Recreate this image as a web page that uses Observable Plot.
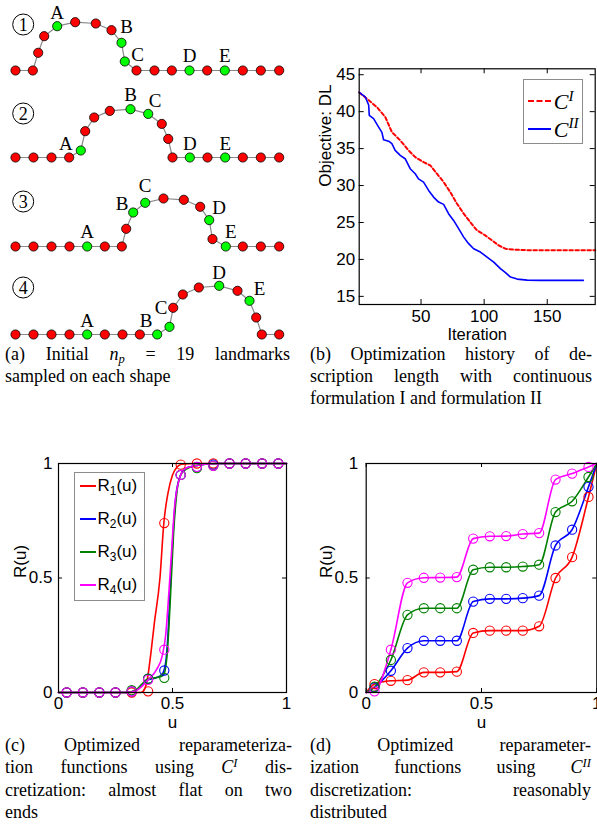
<!DOCTYPE html>
<html>
<head>
<meta charset="utf-8">
<script src="https://cdn.jsdelivr.net/npm/d3@7"></script>
<script src="https://cdn.jsdelivr.net/npm/@observablehq/plot@0.6"></script>
<style>
  body { margin: 0; background: #fff; }
  #root { position: relative; width: 597px; height: 837px; overflow: hidden; background: #fff; }
  #root svg { position: absolute; overflow: visible; background: transparent; }
  .cap { position: absolute; font-family: "Liberation Serif", "Times New Roman", serif; font-size: 18px; line-height: 22.3px; color: #000; }
  .cap .j { text-align: justify; text-align-last: justify; }
  .cap sup, .cap sub, .leg sup, .leg sub { font-size: 70%; line-height: 0; position: relative; vertical-align: baseline; }
  .cap sup { top: -0.5em; }
  .cap sub { top: 0.3em; }
  .leg { position: absolute; background: #fff; border: 1px solid #8c8c8c; box-sizing: border-box; }
  .leg .sw { position: absolute; height: 0; }
  .leg .tx { position: absolute; white-space: nowrap; color: #000; }
</style>
</head>
<body>
<div id="root"></div>
<script>
// ---------------- Panel (a): landmarks on four shapes ----------------
const landmarkLabels = ["A", "B", "C", "D", "E"];
const landmarkIdx = [4, 8, 9, 13, 15];
const shapeNumbers = ["1", "2", "3", "4"];

const shape1X = [15, 32.3, 37.7, 43.7, 56.7, 74.7, 95.3, 111, 121, 124.3, 136, 154, 171.3, 189, 206.7, 224.3, 242.3, 260.3, 278.7];
const shape1H = [0, 0, 17.7, 34.3, 44.3, 48.3, 47, 40.3, 27.7, 9, 0, 0, 0, 0, 0, 0, 0, 0, 0];
const shape2X = [15, 33, 51, 68.7, 80.3, 84.7, 93.7, 109.3, 130, 147.7, 161.3, 167.7, 172, 189.3, 207, 224.7, 242.3, 260.3, 278.7];
const shape2H = [0, 0, 0, 0, 7, 26.3, 40, 46.6, 48.3, 43.6, 33.6, 18.6, 0, 0, 0, 0, 0, 0, 0];
const shape3X = [15, 33, 51, 69, 86.7, 104.3, 121.3, 125.7, 132.7, 144.7, 163, 183.3, 199.7, 208.7, 212, 225.3, 242.3, 260.3, 278.7];
const shape3H = [0, 0, 0, 0, 0, 0, 0, 17.7, 34, 43.7, 48, 46.7, 39.7, 26.4, 7.4, 0, 0, 0, 0];
const shape4X = [15, 33, 51, 69, 86.7, 104.3, 122, 139.3, 156.7, 169, 172.7, 182.3, 198.3, 218.7, 237, 249, 255.7, 261.3, 278.7];
const shape4H = [0, 0, 0, 0, 0, 0, 0, 0, 0, 7.7, 26.7, 40, 47, 48.7, 43.7, 33.7, 17, 0, 0];

// ---------------- Panel (b): optimisation history ----------------
const iterCI = [1, 7.1, 15, 21.7, 26.9, 33.5, 40.1, 45.4, 52, 57.3, 62.6, 67.9, 73.2, 78.5, 83.8, 89, 94.3, 100.9, 106.2, 111.5, 116.9, 123.4, 139.3, 188];
const dlCI = [42.6, 41.75, 40.62, 39.27, 37.24, 36.11, 34.76, 33.85, 33.17, 32.73, 31.6, 30.47, 29.11, 27.54, 26.19, 25.05, 23.93, 23.25, 22.58, 21.9, 21.45, 21.32, 21.23, 21.23];
const iterCII = [1, 5.8, 8.5, 9, 12.4, 16.4, 19, 20.3, 24.3, 26.9, 29.5, 33.5, 37.4, 41.4, 45.4, 48, 52, 56, 59.9, 63.9, 67.9, 71.8, 75.8, 79.8, 83.8, 87.7, 91.7, 97, 102.3, 107.6, 112.9, 116.9, 120.9, 126.2, 134.1, 144.7, 178.6];
const dlCII = [42.6, 42.0, 40.9, 39.5, 39.05, 37.9, 37.2, 36.2, 36.0, 35.66, 34.76, 34.08, 33.63, 32.28, 31.6, 30.9, 30.47, 29.34, 28.44, 27.76, 27.45, 26.19, 25.28, 24.16, 23.02, 22.13, 21.45, 21.0, 20.32, 19.64, 18.75, 18.2, 17.61, 17.34, 17.2, 17.16, 17.16];
const bXTicks = [50, 100, 150];
const bYTicks = [15, 20, 25, 30, 35, 40, 45];

// ---------------- Panels (c), (d): reparameterisation functions ----------------
const uSamples = [0.036, 0.107, 0.179, 0.25, 0.321, 0.393, 0.464, 0.536, 0.607, 0.679, 0.75, 0.821, 0.893, 0.964];
const seriesNames = ["R1", "R2", "R3", "R4"];
const seriesColors = ["#ff0000", "#0000ff", "#008000", "#ff00ff"];
const unitTicks = [0, 0.5, 1];

// (c) sample circles
const cR1 = [0, 0, 0, 0, 0, 0.005, 0.74, 0.995, 1, 1, 1, 1, 1, 1];
const cR2 = [0, 0, 0, 0, 0.005, 0.06, 0.096, 0.95, 0.985, 0.995, 1, 1, 1, 1];
const cR3 = [0, 0, 0, 0, 0.01, 0.06, 0.064, 0.95, 0.98, 0.99, 1, 1, 1, 1];
const cR4 = [0, 0, 0, 0, 0.005, 0.055, 0.187, 0.95, 0.985, 0.99, 1, 1, 1, 1];
// (c) curves
const cCurveU1 = [0, 0.30, 0.36, 0.375, 0.39, 0.405, 0.42, 0.445, 0.462, 0.48, 0.5, 0.52, 0.54, 0.6, 0.8, 1];
const cCurveR1 = [0, 0, 0, 0.01, 0.06, 0.17, 0.30, 0.50, 0.74, 0.87, 0.95, 0.985, 0.997, 1, 1, 1];
const cCurveU2 = [0, 0.3, 0.34, 0.393, 0.43, 0.455, 0.47, 0.48, 0.49, 0.5, 0.515, 0.536, 0.56, 0.6, 0.7, 1];
const cCurveR2 = [0, 0, 0.01, 0.055, 0.065, 0.08, 0.13, 0.25, 0.45, 0.65, 0.86, 0.95, 0.98, 0.99, 1, 1];
const cCurveU3 = [0, 0.3, 0.34, 0.393, 0.43, 0.46, 0.475, 0.485, 0.495, 0.505, 0.52, 0.536, 0.56, 0.6, 0.7, 1];
const cCurveR3 = [0, 0, 0.012, 0.06, 0.065, 0.075, 0.15, 0.3, 0.5, 0.7, 0.88, 0.95, 0.975, 0.99, 1, 1];
const cCurveU4 = [0, 0.3, 0.34, 0.393, 0.43, 0.455, 0.47, 0.485, 0.495, 0.51, 0.536, 0.56, 0.6, 0.7, 1];
const cCurveR4 = [0, 0, 0.008, 0.055, 0.1, 0.16, 0.25, 0.45, 0.6, 0.82, 0.95, 0.98, 0.99, 1, 1];

// (d) sample circles
const dR1 = [0.037, 0.051, 0.054, 0.088, 0.088, 0.091, 0.26, 0.27, 0.27, 0.27, 0.289, 0.5, 0.591, 0.854];
const dR2 = [0.022, 0.095, 0.194, 0.226, 0.226, 0.226, 0.397, 0.409, 0.409, 0.412, 0.423, 0.642, 0.711, 0.898];
const dR3 = [0.025, 0.142, 0.339, 0.368, 0.368, 0.368, 0.536, 0.547, 0.547, 0.55, 0.558, 0.788, 0.835, 0.941];
const dR4 = [0.005, 0.187, 0.479, 0.501, 0.502, 0.504, 0.672, 0.682, 0.683, 0.692, 0.696, 0.93, 0.956, 0.985];

// ====================================================================
const root = document.getElementById("root");
const SANS = "Liberation Sans, Arial, Helvetica, sans-serif";
const SERIF = "Liberation Serif, Times New Roman, serif";

function place(node, left, top) {
  node.style.left = left + "px";
  node.style.top = top + "px";
  root.appendChild(node);
  return node;
}

// ---- Panel (a)
const shapes = [[shape1X, shape1H], [shape2X, shape2H], [shape3X, shape3H], [shape4X, shape4H]];
const shapeTops = [0, 87.3, 175.7, 263.7];
const labelOffsets = [
  [[0, -13], [5, -15.6], [12.7, -7], [0, -15], [0, -15]],
  [[-15, -7], [0, -14], [7, -12.7], [0, -13.3], [0, -13.3]],
  [[0, -14.7], [-11, -8.4], [0, -17], [10, -12], [5, -14.7]],
  [[0, -13.7], [-11, -13.7], [-8.3, -19.3], [0, -13.3], [10, -11.7]]
];
const numberMarkX = 22.7;
const numberMarkH = [46, 44, 45, 47];

shapes.forEach(([xs, hs], s) => {
  const pts = xs.map((x, i) => ({x, h: hs[i], green: landmarkIdx.includes(i)}));
  const labs = landmarkIdx.map((i, k) => ({x: xs[i], h: hs[i], t: landmarkLabels[k], dx: labelOffsets[s][k][0], dy: labelOffsets[s][k][1]}));
  const num = [{x: numberMarkX, h: numberMarkH[s], t: shapeNumbers[s]}];
  const svg = Plot.plot({
    width: 300, height: 90, margin: 0,
    x: {domain: [0, 300], range: [0, 300], axis: null},
    y: {domain: [-20, 70], range: [90, 0], axis: null},
    style: {background: "transparent", overflow: "visible"},
    marks: [
      Plot.line(pts, {x: "x", y: "h", stroke: "#8a8a8a", strokeWidth: 1.2}),
      Plot.dot(pts.filter(d => !d.green), {x: "x", y: "h", r: 4.6, fill: "#ff0000", stroke: "#000", strokeWidth: 0.8}),
      Plot.dot(pts.filter(d => d.green), {x: "x", y: "h", r: 4.6, fill: "#00ff00", stroke: "#000", strokeWidth: 0.8}),
      ...labs.map(l => Plot.text([l], {x: "x", y: "h", text: "t", dx: l.dx, dy: l.dy, fontFamily: SERIF, fontSize: 19, fill: "#000"})),
      Plot.dot(num, {x: "x", y: "h", r: 10.5, stroke: "#000", strokeWidth: 1, fill: "none"}),
      Plot.text(num, {x: "x", y: "h", text: "t", fontFamily: SERIF, fontSize: 18, fill: "#000", dy: 0.5})
    ]
  });
  place(svg, 0, shapeTops[s]);
});

// ---- Panel (b)
{
  const fw = 236, fh = 235.7;
  const lineI = iterCI.map((x, i) => ({x, y: dlCI[i]}));
  const lineII = iterCII.map((x, i) => ({x, y: dlCII[i]}));
  const svg = Plot.plot({
    width: 297, height: 300,
    marginLeft: 58.7, marginTop: 18.3, marginRight: 2.3, marginBottom: 46,
    x: {domain: [1, 188]}, y: {domain: [13.9, 45.8]},
    style: {fontFamily: SANS, fontSize: "16px", color: "#000", background: "transparent", overflow: "visible"},
    marks: [
      Plot.line(lineI, {x: "x", y: "y", stroke: "#ff0000", strokeWidth: 2, strokeDasharray: "3.5,2.5"}),
      Plot.line(lineII, {x: "x", y: "y", stroke: "#0000ff", strokeWidth: 1.6}),
      Plot.frame({stroke: "#000", strokeWidth: 1.2}),
      Plot.tickX(bXTicks, {x: d => d, insetTop: fh - 5, stroke: "#000"}),
      Plot.tickX(bXTicks, {x: d => d, insetBottom: fh - 5, stroke: "#000"}),
      Plot.tickY(bYTicks, {y: d => d, insetRight: fw - 5, stroke: "#000"}),
      Plot.tickY(bYTicks, {y: d => d, insetLeft: fw - 5, stroke: "#000"}),
      Plot.axisX({ticks: bXTicks, tickSize: 0, tickPadding: 5.5, label: null, fontFamily: SANS, fontSize: 17}),
      Plot.axisY({ticks: bYTicks, tickSize: 0, tickPadding: 4, label: null, fontFamily: SANS, fontSize: 17}),
      Plot.text(["Iteration"], {frameAnchor: "bottom", lineAnchor: "middle", dy: 30.3, fontFamily: SANS, fontSize: 16.5, fill: "#000"}),
      Plot.text(["Objective: DL"], {frameAnchor: "left", lineAnchor: "middle", rotate: -90, dx: -34, fontFamily: SANS, fontSize: 17, fill: "#000"})
    ]
  });
  place(svg, 300, 50);
}

// ---- Panels (c), (d)
function reparamPlot(left, marginLeft, marginRight, circles, curves, yLabelDx, yTickPad) {
  const fw = 300 - marginLeft - marginRight, fh = 229;
  const marks = [];
  curves.forEach(([us, rs], k) => {
    marks.push(Plot.line(us.map((u, i) => ({u, r: rs[i]})), {x: "u", y: "r", stroke: seriesColors[k], strokeWidth: 1.6, curve: "monotone-x"}));
  });
  circles.forEach((rs, k) => {
    marks.push(Plot.dot(uSamples.map((u, i) => ({u, r: rs[i]})), {x: "u", y: "r", r: 4.6, stroke: seriesColors[k], strokeWidth: 1.1, fill: "none"}));
  });
  marks.push(
    Plot.frame({stroke: "#000", strokeWidth: 1.2}),
    Plot.tickX(unitTicks, {x: d => d, insetTop: fh - 4, stroke: "#000"}),
    Plot.tickX(unitTicks, {x: d => d, insetBottom: fh - 4, stroke: "#000"}),
    Plot.tickY(unitTicks, {y: d => d, insetRight: fw - 4, stroke: "#000"}),
    Plot.tickY(unitTicks, {y: d => d, insetLeft: fw - 4, stroke: "#000"}),
    Plot.axisX({ticks: unitTicks, tickSize: 0, tickPadding: 4, label: null, tickFormat: d => String(d), fontFamily: SANS, fontSize: 17}),
    Plot.axisY({ticks: unitTicks, tickSize: 0, tickPadding: yTickPad, label: null, tickFormat: d => String(d), fontFamily: SANS, fontSize: 17}),
    Plot.text(["u"], {frameAnchor: "bottom", lineAnchor: "middle", dy: 30.5, fontFamily: SANS, fontSize: 17, fill: "#000"}),
    Plot.text(["R(u)"], {frameAnchor: "left", lineAnchor: "middle", rotate: -90, dx: yLabelDx, fontFamily: SANS, fontSize: 17, fill: "#000"})
  );
  const svg = Plot.plot({
    width: 300, height: 300,
    marginLeft, marginRight, marginTop: 23, marginBottom: 48,
    x: {domain: [0, 1]}, y: {domain: [0, 1]},
    style: {fontFamily: SANS, fontSize: "17px", color: "#000", background: "transparent", overflow: "visible"},
    marks
  });
  place(svg, left, 440);
}

reparamPlot(0, 58, 14, [cR1, cR2, cR3, cR4],
  [[cCurveU1, cCurveR1], [cCurveU2, cCurveR2], [cCurveU3, cCurveR3], [cCurveU4, cCurveR4]], -37.5, 6);

const dCurveU = [0, ...uSamples, 1];
reparamPlot(300, 65.7, 3.7, [dR1, dR2, dR3, dR4],
  [dR1, dR2, dR3, dR4].map(rs => [dCurveU, [0, ...rs, 1]]), -40, 8);

// ---- Legends
function legend(left, top, width, height, rows) {
  const box = document.createElement("div");
  box.className = "leg";
  box.style.width = width + "px";
  box.style.height = height + "px";
  rows.forEach(r => {
    const sw = document.createElement("div");
    sw.className = "sw";
    sw.style.left = r.swLeft + "px";
    sw.style.width = r.swWidth + "px";
    sw.style.top = (r.cy - 1) + "px";
    sw.style.borderTop = r.border;
    box.appendChild(sw);
    const tx = document.createElement("div");
    tx.className = "tx";
    tx.style.left = r.txLeft + "px";
    tx.style.top = (r.cy - r.lh / 2) + "px";
    tx.style.lineHeight = r.lh + "px";
    tx.style.font = r.font;
    tx.innerHTML = r.html;
    box.appendChild(tx);
  });
  place(box, left, top);
}

legend(522.7, 79.3, 60, 64.7, [
  {cy: 20.7, swLeft: 4, swWidth: 23, border: "2px dashed #ff0000", txLeft: 30, lh: 24, font: "italic 22px " + SERIF, html: "C<sup style='top:-0.55em'>I</sup>"},
  {cy: 48.4, swLeft: 4, swWidth: 23, border: "2px solid #0000ff", txLeft: 30, lh: 24, font: "italic 22px " + SERIF, html: "C<sup style='top:-0.55em'>II</sup>"}
]);

legend(74, 472, 71, 129, seriesNames.map((name, k) => ({
  cy: 13 + k * 33, swLeft: 4.5, swWidth: 16.5, border: "2px solid " + seriesColors[k],
  txLeft: 22.5, lh: 20, font: "17px " + SANS,
  html: "R<sub style='top:0.35em'>" + name.slice(1) + "</sub>(u)"
})));

// ---- Captions
function caption(left, top, width, lines) {
  const div = document.createElement("div");
  div.className = "cap";
  div.style.width = width + "px";
  lines.forEach((l, i) => {
    const ld = document.createElement("div");
    if (i < lines.length - 1) ld.className = "j";
    ld.innerHTML = l;
    div.appendChild(ld);
  });
  place(div, left, top);
}

caption(5, 342.5, 285, ["(a) Initial <i>n<sub>p</sub></i> = 19 landmarks", "sampled on each shape"]);
caption(310, 342.5, 282, ["(b) Optimization history of de-", "scription length with continuous", "formulation I and formulation II"]);
caption(5, 734, 287, ["(c) Optimized reparameteriza-", "tion functions using <i>C<sup>I</sup></i> dis-", "cretization: almost flat on two", "ends"]);
caption(310, 734, 281, ["(d) Optimized reparameter-", "ization functions using <i>C<sup>II</sup></i>", "discretization: reasonably", "distributed"]);
</script>
</body>
</html>
